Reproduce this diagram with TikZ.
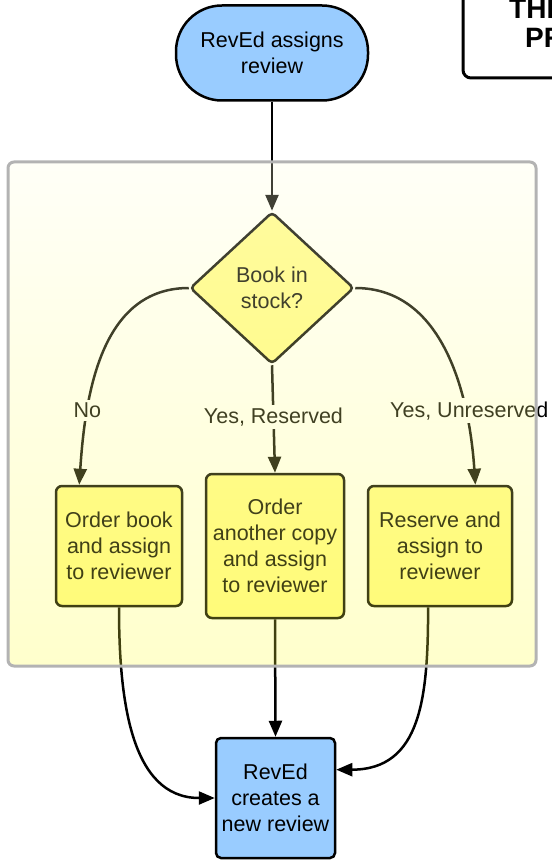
\documentclass[tikz,border=0pt]{standalone}
\usepackage{fontspec}
\setmainfont{Liberation Sans}
\usetikzlibrary{shapes.geometric,arrows.meta}
\definecolor{revblue}{HTML}{99CCFF}
\definecolor{stepyellow}{HTML}{FFFA8C}
\definecolor{framegray}{HTML}{B3B3B3}
\definecolor{shadetop}{rgb}{1,1,0.88}
\definecolor{shadebot}{rgb}{1,1,0.2}
\begin{document}
\begin{tikzpicture}[x=1pt,y=-1pt,
	txt/.style={font=\fontsize{21.5}{26}\selectfont, align=center, inner sep=0pt},
	revbox/.style={txt, draw=black, line width=2.5pt, fill=revblue},
	taskbox/.style={txt, draw=black, line width=2.5pt, fill=stepyellow, rounded corners=6pt},
	choice/.style={txt, diamond, draw=black, line width=2.5pt, fill=stepyellow, rounded corners=4pt, minimum width=164pt, minimum height=152pt},
	flow/.style={line width=2.5pt, -{Triangle[length=16pt,width=13pt]}},
	branch/.style={txt, fill=white, inner sep=3pt},
	notetext/.style={font=\fontsize{28}{32}\bfseries, inner sep=0pt, anchor=base west}]
	\useasboundingbox (0,0) rectangle (551,861);
	% nodes
	\node[revbox, rounded corners=46pt, minimum width=192pt, minimum height=95pt] (start) at (272,53) {RevEd assigns\\review};
	\node[choice] (dia) at (272,288) {Book in\\stock?};
	\node[taskbox, minimum width=126pt, minimum height=120pt] (ordbook) at (119,546) {Order book\\and assign\\to reviewer};
	\node[taskbox, minimum width=138pt, minimum height=144pt] (ordcopy) at (275,546) {Order\\another copy\\and assign\\to reviewer};
	\node[taskbox, minimum width=144pt, minimum height=120pt] (reserve) at (440,546) {Reserve and\\assign to\\reviewer};
	\node[revbox, rounded corners=5pt, minimum width=119pt, minimum height=120pt] (newrev) at (275.5,798) {RevEd\\creates a\\new review};
	% connectors
	\draw[flow] (start.south) -- (dia.north);
	\draw[flow] (dia.west) .. controls +(-88,0) and +(6,-90) .. (ordbook.123) node[branch, pos=0.73] (nolbl) {No};
	\draw[flow] (dia.south) -- (ordcopy.north) node[branch, pos=0.48] (reslbl) {Yes, Reserved};
	\draw[flow] (dia.east) .. controls +(88,0) and +(-6,-90) .. (reserve.60) node[branch, pos=0.73, xshift=4pt] (unreslbl) {Yes, Unreserved};
	\draw[flow] (ordbook.south) .. controls +(0,90) and +(-85,0) .. (newrev.west);
	\draw[flow] (ordcopy.south) -- (newrev.north);
	\draw[flow] (reserve.259) .. controls +(0,90) and +(85,0) .. (newrev.25);
	% frame round the choice
	\shade[top color=shadetop, bottom color=shadebot, fill opacity=0.25, rounded corners=6pt] (8,162) rectangle (536,666);
	\draw[framegray, line width=3pt, rounded corners=6pt] (8,162) rectangle (536,666);
	% note in the corner
	\draw[line width=3pt, rounded corners=8pt, fill=white] (463,-20) rectangle (600,78);
	\node[notetext] (notetop) at (509,19) {THE};
	\node[notetext] (notebot) at (525,48) {PR};
\end{tikzpicture}
\end{document}
